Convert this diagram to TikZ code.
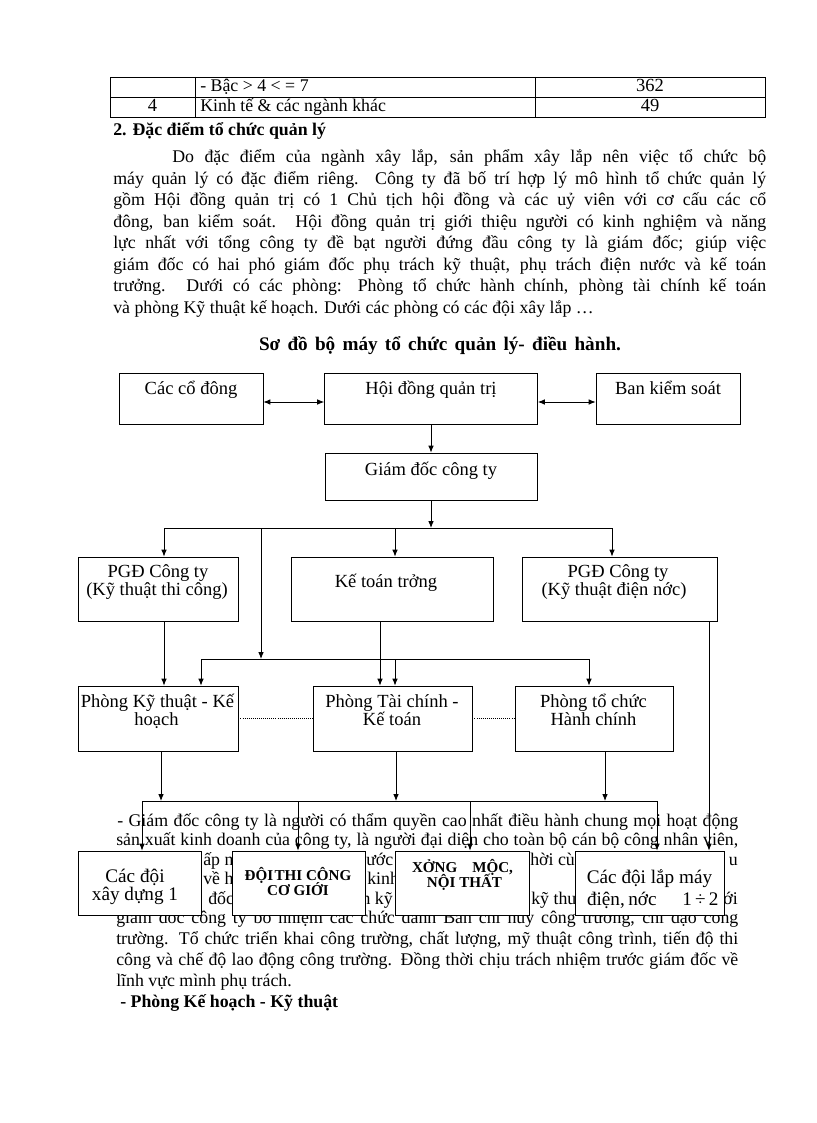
\documentclass[tikz,border=0pt]{standalone}
\usepackage{fontspec}
\setmainfont{Liberation Serif}
\usetikzlibrary{arrows.meta,calc,positioning}
\newlength{\px}\setlength{\px}{0.7292pt}

\tikzset{
  box/.style={draw, line width=0.6pt, fill=white, inner sep=0pt},
  lbl/.style={inner sep=0pt, anchor=base, font=\fontsize{13.5}{15}\selectfont},
  big/.style={inner sep=0pt, anchor=base, font=\fontsize{14}{16}\selectfont},
  caps/.style={inner sep=0pt, anchor=base, font=\bfseries\fontsize{11}{12}\selectfont},
  body/.style={inner sep=0pt, anchor=base west, font=\fontsize{13}{15}\selectfont},
  bodyr/.style={inner sep=0pt, anchor=base east, font=\fontsize{13}{15}\selectfont},
  link/.style={line width=0.6pt},
  dotlink/.style={line width=0.5pt, densely dotted},
}

\begin{document}
\begin{tikzpicture}[x=\px, y=-\px, >={Latex[length=5pt,width=4pt]}]
\useasboundingbox[fill=white] (0,0) rectangle (816,1123);

% bang
\draw[line width=0.5pt] (110,77) rectangle (765,117);
\draw[line width=0.5pt] (110,97) -- (765,97);
\draw[line width=0.5pt] (195,77) -- (195,117);
\draw[line width=0.5pt] (535,77) -- (535,117);
\node[body] (t1) at (200,92) {- Bậc > 4 < = 7};
\node[lbl] (t2) at (650,92) {362};
\node[lbl] (t3) at (152.5,112) {4};
\node[body] (t4) at (200,112) {Kinh tế \& các ngành khác};
\node[lbl] (t5) at (650,112) {49};

% doan van
\node[body, font=\bfseries\fontsize{13}{15}\selectfont] (head) at (113,136) {2. Đặc điểm tổ chức quản lý};
\node[body] (p1) at (172,163) {\makebox[594\px][s]{Do đặc điểm của ngành xây lắp, sản phẩm xây lắp nên việc tổ chức bộ}};
\node[body] (p2) at (113,184.5) {\makebox[653\px][s]{máy quản lý có đặc điểm riêng. Công ty đã bố trí hợp lý mô hình tổ chức quản lý}};
\node[body] (p3) at (113,206) {\makebox[653\px][s]{gồm Hội đồng quản trị có 1 Chủ tịch hội đồng và các uỷ viên với cơ cấu các cổ}};
\node[body] (p4) at (113,227.5) {\makebox[653\px][s]{đông, ban kiểm soát. Hội đồng quản trị giới thiệu người có kinh nghiệm và năng}};
\node[body] (p5) at (113,249) {\makebox[653\px][s]{lực nhất với tổng công ty đề bạt người đứng đầu công ty là giám đốc; giúp việc}};
\node[body] (p6) at (113,270.5) {\makebox[653\px][s]{giám đốc có hai phó giám đốc phụ trách kỹ thuật, phụ trách điện nước và kế toán}};
\node[body] (p7) at (113,292) {\makebox[653\px][s]{trưởng. Dưới có các phòng: Phòng tổ chức hành chính, phòng tài chính kế toán}};
\node[body] (p8) at (113,313.5) {và phòng Kỹ thuật kế hoạch. Dưới các phòng có các đội xây lắp …};

\node[anchor=base, inner sep=0pt, font=\bfseries\fontsize{14}{16}\selectfont] (title) at (440,351) {\makebox[362\px][s]{Sơ đồ bộ máy tổ chức quản lý- điều hành.}};

% van ben duoi so do
\node[body] (q1) at (117,826) {\makebox[621\px][s]{- Giám đốc công ty là người có thẩm quyền cao nhất điều hành chung mọi hoạt động}};
\node[body] (q2) at (116,845) {\makebox[622\px][s]{sản xuất kinh doanh của công ty, là người đại diện cho toàn bộ cán bộ công nhân viên,}};
\node[body] (q3a) at (203,865) {ấp n};
\node[body] (q3b) at (366,865) {ước};
\node[body] (q3c) at (530,865) {hời cùn};
\node[bodyr] (q3d) at (738,865) {u};
\node[body] (q4a) at (203,884) {về h};
\node[body] (q4b) at (367,884) {kinh};
\node[body] (q5a) at (208,904) {đốc};
\node[bodyr] (q5b) at (393,904) {n kỹ};
\node[body] (q5c) at (531,904) {kỹ thu};
\node[bodyr] (q5d) at (738,904) {ới};
\node[body] (q6) at (116,923) {\makebox[622\px][s]{giám đốc công ty bổ nhiệm các chức danh Ban chỉ huy công trường, chỉ đạo công}};
\node[body] (q7) at (116,944) {\makebox[622\px][s]{trường. Tổ chức triển khai công trường, chất lượng, mỹ thuật công trình, tiến độ thi}};
\node[body] (q8) at (116,965) {\makebox[622\px][s]{công và chế độ lao động công trường. Đồng thời chịu trách nhiệm trước giám đốc về}};
\node[body] (q9) at (116,986) {lĩnh vực mình phụ trách.};
\node[body, font=\bfseries\fontsize{13}{15}\selectfont] (q10) at (120,1007) {- Phòng Kế hoạch - Kỹ thuật};

% cac khoi
\node[box, minimum width=144\px, minimum height=51\px] (codong) at (191,398.5) {};
\node[box, minimum width=213\px, minimum height=51\px] (hdqt) at (431,398.5) {};
\node[box, minimum width=144\px, minimum height=51\px] (bks) at (668,398.5) {};
\node[box, minimum width=212\px, minimum height=47\px] (gd) at (431,476.5) {};
\node[box, minimum width=160\px, minimum height=64\px] (pgd1) at (158,589) {};
\node[box, minimum width=202\px, minimum height=64\px] (ktt) at (392,589) {};
\node[box, minimum width=195\px, minimum height=64\px] (pgd2) at (619.5,589) {};
\node[box, minimum width=160\px, minimum height=65\px] (pkt) at (158,718.5) {};
\node[box, minimum width=159\px, minimum height=65\px] (ptc) at (392.5,718.5) {};
\node[box, minimum width=158\px, minimum height=65\px] (ptchc) at (594,718.5) {};
\node[box, minimum width=123\px, minimum height=64\px] (doi1) at (139.5,883) {};
\node[box, minimum width=133\px, minimum height=64\px] (doi2) at (298.5,883) {};
\node[box, minimum width=134\px, minimum height=64\px] (doi3) at (462,883) {};
\node[box, minimum width=149\px, minimum height=64\px] (doi4) at (649.5,883) {};

\node[lbl] (codong-t) at (191,395) {Các cổ đông};
\node[lbl] (hdqt-t) at (431,395) {Hội đồng quản trị};
\node[lbl] (bks-t) at (668,395) {Ban kiểm soát};
\node[lbl] (gd-t) at (431,475) {Giám đốc công ty};
\node[lbl] (pgd1-t) at (158,577) {PGĐ Công ty};
\node[lbl] (pgd1-u) at (157,595) {(Kỹ thuật thi công)};
\node[lbl] (ktt-t) at (386,587) {Kế toán trởng};
\node[lbl] (pgd2-t) at (618,577) {PGĐ Công ty};
\node[lbl] (pgd2-u) at (614,595) {(Kỹ thuật điện nớc)};
\node[lbl] (pkt-t) at (157.5,707) {Phòng Kỹ thuật - Kế};
\node[lbl] (pkt-u) at (156.5,725) {hoạch};
\node[lbl] (ptc-t) at (392,707) {Phòng Tài chính -};
\node[lbl] (ptc-u) at (392,725) {Kế toán};
\node[lbl] (ptchc-t) at (593.5,707) {Phòng tổ chức};
\node[lbl] (ptchc-u) at (593.5,725) {Hành chính};
\node[big] (doi1-t) at (135,882) {Các đội};
\node[big] (doi1-u) at (135,900) {xây dựng 1};
\node[caps] (doi2-t) at (298,880) {{\spaceskip=1pt ĐỘI THI} CÔNG};
\node[caps] (doi2-u) at (298,895) {CƠ GIỚI};
\node[caps] (doi3-t) at (462.5,872) {\makebox[101\px][s]{XỞNG MỘC,}};
\node[caps] (doi3-u) at (464.5,887) {NỘI THẤT};
\node[big] (doi4-t) at (649.5,883) {Các đội lắp máy};
\node[big] (doi4-u) at (649.5,905) {\makebox[125\px][s]{điện, nớc \hspace{1em} 1 ÷ 2}};

% duong noi
\draw[link,<->] ($(codong.east)+(0,3.5)$) -- ($(hdqt.west)+(0,3.5)$);
\draw[link,<->] ($(hdqt.east)+(0,3.5)$) -- ($(bks.west)+(0,3.5)$);
\draw[link,->] (hdqt.south) -- (gd.north);

\coordinate (bus1) at (431,528);
\coordinate (bus1w) at (164,528);
\coordinate (bus1e) at (612,528);
\coordinate (bus1s) at (261,528);
\coordinate (bus1k) at (395,528);
\draw[link,->] (gd.south) -- (bus1);
\draw[link] (bus1w) -- (bus1e);
\draw[link,->] (bus1w) -- (bus1w |- pgd1.north);
\draw[link,->] (bus1k) -- (bus1k |- ktt.north);
\draw[link,->] (bus1e) -- (bus1e |- pgd2.north);

\coordinate (bus2w) at (201,659);
\coordinate (bus2e) at (589,659);
\coordinate (bus2s) at (261,659);
\coordinate (bus2k) at (395,659);
\draw[link,->] (bus1s) -- (bus2s);
\draw[link] (bus2w) -- (bus2e);
\draw[link,->] (bus2w) -- (bus2w |- pkt.north);
\draw[link,->] (bus2k) -- (bus2k |- ptc.north);
\draw[link,->] (bus2e) -- (bus2e |- ptchc.north);

\coordinate (pgd1d) at (164,621);
\coordinate (kttd) at (380,621);
\coordinate (pgd2d) at (709,621);
\draw[link,->] (pgd1d) -- (pgd1d |- pkt.north);
\draw[link,->] (kttd) -- (kttd |- ptc.north);
\draw[link,->] (pgd2d) -- (pgd2d |- doi4.north);

\draw[dotlink] (pkt.east) -- (ptc.west);
\draw[dotlink] (ptc.east) -- (ptchc.west);

\coordinate (bus3w) at (142,801);
\coordinate (bus3e) at (657,801);
\coordinate (bus3a) at (298,801);
\coordinate (bus3b) at (470,801);
\coordinate (pktd) at (161,751);
\coordinate (ptcd) at (396,751);
\coordinate (ptchcd) at (605,751);
\draw[link,->] (pktd) -- (pktd |- bus3w);
\draw[link,->] (ptcd) -- (ptcd |- bus3w);
\draw[link,->] (ptchcd) -- (ptchcd |- bus3w);
\draw[link] (bus3w) -- (bus3e);
\draw[link,->] (bus3w) -- (bus3w |- doi1.north);
\draw[link,->] (bus3a) -- (bus3a |- doi2.north);
\draw[link,->] (bus3b) -- (bus3b |- doi3.north);
\draw[link,->] (bus3e) -- (bus3e |- doi4.north);

\end{tikzpicture}
\end{document}
